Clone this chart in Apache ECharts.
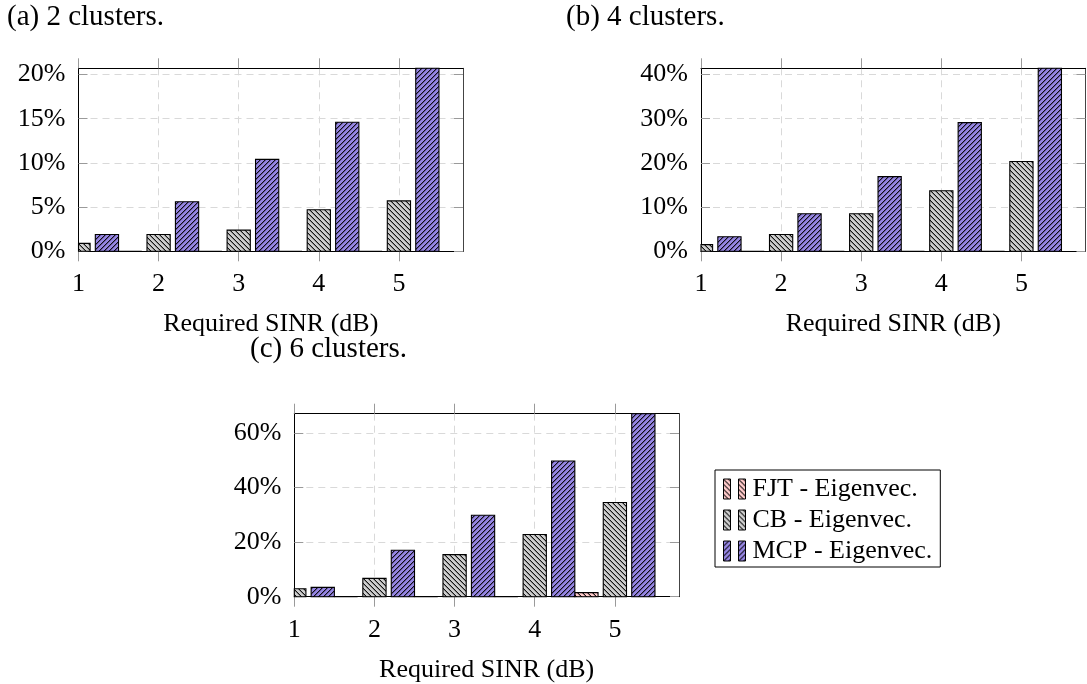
<!DOCTYPE html>
<html>
<head>
<meta charset="utf-8">
<script src="https://cdn.jsdelivr.net/npm/echarts@6/dist/echarts.min.js"></script>
<style>html,body{margin:0;padding:0;background:#fff}#c{width:1087px;height:684px}</style>
</head>
<body>
<div id="c"></div>
<script>
// ---- data ----
const X_VALUES = [1, 2, 3, 4, 5];
const X_TICKS = [1, 2, 3, 4, 5];
const SERIES_NAMES = ['FJT - Eigenvec.', 'CB - Eigenvec.', 'MCP - Eigenvec.'];
const PANEL_TITLES = ['(a) 2 clusters.', '(b) 4 clusters.', '(c) 6 clusters.'];
const X_NAME = 'Required SINR (dB)';

const A_FJT = [0, 0, 0, 0, 0];
const A_CB = [0.9, 1.9, 2.4, 4.7, 5.7];
const A_MCP = [1.9, 5.6, 10.4, 14.6, 20.7];
const A_YTICKS = [0, 5, 10, 15, 20];
const A_YMAX = 20.7;

const B_FJT = [0, 0, 0, 0, 0];
const B_CB = [1.5, 3.8, 8.5, 13.7, 20.3];
const B_MCP = [3.3, 8.5, 16.9, 29.1, 41.4];
const B_YTICKS = [0, 10, 20, 30, 40];
const B_YMAX = 41.4;

const C_FJT = [0, 0, 0, 0, 1.5];
const C_CB = [2.9, 6.7, 15.4, 22.8, 34.5];
const C_MCP = [3.4, 17.0, 29.8, 49.7, 67.0];
const C_YTICKS = [0, 20, 40, 60];
const C_YMAX = 67;

// ---- styling ----
const FONT = 'Liberation Serif';
const BAR_W = 0.29;              // bar width in x units
const BAR_SHIFT = [-0.355, 0, 0.355];
const BASE_COLORS = ['#ffcaca', '#cdcdcd', '#9585e2'];
const HATCH_DIR = ['\\', '\\', '/'];

function makeHatch(bg, dir) {
  const s = 5;
  const c = document.createElement('canvas');
  c.width = s; c.height = s;
  const ctx = c.getContext('2d');
  ctx.fillStyle = bg; ctx.fillRect(0, 0, s, s);
  for (let x = 0; x < s; x++) {
    const y = dir === '/' ? (s - 1 - x) : x;
    ctx.fillStyle = 'rgba(0,0,0,0.9)';
    ctx.fillRect(x, y, 1, 1);
    ctx.fillStyle = 'rgba(0,0,0,0.35)';
    ctx.fillRect(x, (y + 1) % s, 1, 1);
  }
  return { image: c, repeat: 'repeat' };
}
const PATTERNS = BASE_COLORS.map((b, i) => makeHatch(b, HATCH_DIR[i]));

const panels = [
  { data: [A_FJT, A_CB, A_MCP], yticks: A_YTICKS, ymax: A_YMAX, grid: { left: 78.5, top: 68.3, width: 384.5, height: 183 }, title: { left: 7, top: 3 } },
  { data: [B_FJT, B_CB, B_MCP], yticks: B_YTICKS, ymax: B_YMAX, grid: { left: 701, top: 68.3, width: 384.5, height: 183 }, title: { left: 566, top: 3 } },
  { data: [C_FJT, C_CB, C_MCP], yticks: C_YTICKS, ymax: C_YMAX, grid: { left: 294.3, top: 413.7, width: 384.7, height: 183 }, title: { left: 250, top: 335 } }
];

const grids = [], xAxes = [], yAxes = [], series = [], titles = [];
const labelStyle = { fontFamily: FONT, fontSize: 26, color: '#000' };

panels.forEach((p, k) => {
  grids.push(Object.assign({ containLabel: false }, p.grid));
  titles.push({ text: PANEL_TITLES[k], left: p.title.left, top: p.title.top, padding: 0,
    textStyle: { fontFamily: FONT, fontSize: 29, fontWeight: 'normal', color: '#000' } });
  const splitStyle = { show: true, lineStyle: { color: '#d9d9d9', width: 1, type: [7, 5] } };
  xAxes.push({
    gridIndex: k, type: 'value', min: 1, max: 5.8, interval: 1, position: 'bottom',
    axisLine: { show: true, onZero: false, lineStyle: { color: '#000', width: 1 } },
    axisTick: { show: true, inside: false, length: 10, customValues: X_TICKS, lineStyle: { color: '#9a9a9a' } },
    axisLabel: Object.assign({ customValues: X_TICKS, margin: 20 }, labelStyle),
    splitLine: splitStyle,
    name: X_NAME, nameLocation: 'middle', nameGap: 60,
    nameTextStyle: labelStyle
  });
  xAxes.push({
    gridIndex: k, type: 'value', min: 1, max: 5.8, interval: 1, position: 'top',
    axisLine: { show: true, onZero: false, lineStyle: { color: '#000', width: 1 } },
    axisTick: { show: true, inside: false, length: 10, customValues: X_TICKS, lineStyle: { color: '#9a9a9a' } },
    axisLabel: { show: false }, splitLine: { show: false }
  });
  const step = p.yticks[1] - p.yticks[0];
  yAxes.push({
    gridIndex: k, type: 'value', min: 0, max: p.ymax, interval: step, position: 'left',
    axisLine: { show: true, onZero: false, lineStyle: { color: '#000', width: 1 } },
    axisTick: { show: true, inside: true, length: 9, customValues: p.yticks, lineStyle: { color: '#9a9a9a' } },
    axisLabel: Object.assign({ customValues: p.yticks, margin: 13, formatter: '{value}%' }, labelStyle),
    splitLine: splitStyle
  });
  yAxes.push({
    gridIndex: k, type: 'value', min: 0, max: p.ymax, interval: step, position: 'right',
    axisLine: { show: true, onZero: false, lineStyle: { color: '#444', width: 1 } },
    axisTick: { show: true, inside: true, length: 9, customValues: p.yticks, lineStyle: { color: '#9a9a9a' } },
    axisLabel: { show: false }, splitLine: { show: false }
  });
  p.data.forEach((vals, s) => {
    series.push({
      type: 'custom', name: SERIES_NAMES[s],
      xAxisIndex: 2 * k, yAxisIndex: 2 * k,
      itemStyle: { color: PATTERNS[s], borderColor: '#000', borderWidth: 1 },
      encode: { x: 0, y: 1 },
      data: X_VALUES.map((x, i) => [x, vals[i]]),
      z: 3,
      renderItem: function (params, api) {
        const xc = api.value(0) + BAR_SHIFT[s];
        const v = api.value(1);
        const pTop = api.coord([xc - BAR_W / 2, v]);
        const pBot = api.coord([xc + BAR_W / 2, 0]);
        const cs = params.coordSys;
        let x0 = Math.max(pTop[0], cs.x), x1 = Math.min(pBot[0], cs.x + cs.width);
        let y0 = Math.max(pTop[1], cs.y), y1 = Math.min(pBot[1], cs.y + cs.height);
        if (x1 < x0 || y1 < y0) return null;
        return {
          type: 'rect',
          shape: { x: x0, y: y0, width: x1 - x0, height: y1 - y0 },
          style: { fill: PATTERNS[s], stroke: '#000', lineWidth: 1.1 }
        };
      }
    });
  });
});

const chart = echarts.init(document.getElementById('c'), null, { renderer: 'canvas' });
chart.setOption({
  animation: false,
  backgroundColor: '#fff',
  title: titles,
  grid: grids,
  xAxis: xAxes,
  yAxis: yAxes,
  legend: {
    data: SERIES_NAMES, orient: 'vertical', left: 715, top: 470,
    borderColor: '#000', borderWidth: 1, borderRadius: 0,
    padding: [6, 8, 3, 8], itemGap: 5,
    icon: 'path://M0 0H7V20H0Z M15 0H22V20H15Z', itemWidth: 22, itemHeight: 20,
    itemStyle: { borderColor: '#000', borderWidth: 1 },
    textStyle: { fontFamily: FONT, fontSize: 26, color: '#000', padding: [0, 0, 0, 2] },
    selectedMode: false
  },
  series: series
});
</script>
</body>
</html>
